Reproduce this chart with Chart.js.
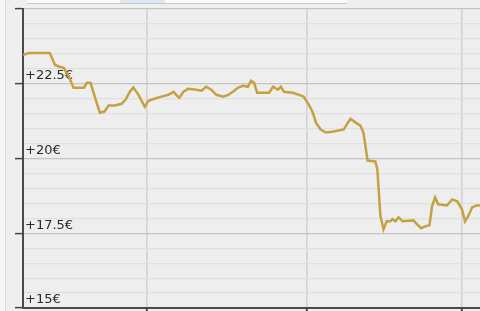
<!DOCTYPE html>
<html>
<head>
<meta charset="utf-8">
<script src="https://cdn.jsdelivr.net/npm/chart.js@4/dist/chart.umd.min.js"></script>
<style>
  html, body { margin: 0; padding: 0; background: #eeeeee; }
  #wrap { width: 480px; height: 311px; position: relative; }
</style>
</head>
<body>
<div id="wrap"><canvas id="c" width="480" height="311"></canvas></div>
<script>
// Day offsets from the start of the window
const days = [0, 1.2, 5.2, 6.2, 7.1, 7.9, 8.9, 9.8, 11.8, 12.4, 13.1, 13.9, 14.9, 15.8, 16.6, 17.8, 19.1, 19.9, 20.7, 21.4,
  22.4, 23.6, 24.3, 25.5, 26.8, 28.2, 29.2, 29.7, 30.3, 31.1, 32.0, 33.6, 34.6, 35.5, 36.5, 37.5, 38.8, 39.8, 40.7, 41.7,
  42.7, 43.6, 44.2, 44.8, 45.4, 47.7, 48.5, 49.4, 50.0, 50.6, 52.3, 53.5, 54.4, 55.4, 56.2, 56.8, 57.7, 58.7, 60.2, 62.2,
  63.1, 63.5, 64.5, 65.4, 66.0, 66.4, 66.8, 68.3, 68.7, 69.3, 69.9, 70.5, 71.2, 71.6, 72.2, 72.8, 73.6, 75.7, 76.4, 77.2,
  78.0, 78.8, 79.3, 79.9, 80.5, 82.2, 83.2, 84.2, 85.1, 85.7, 86.3, 87.1, 88.0, 88.6];
// Share price in euros
const prices = [23.47, 23.53, 23.53, 23.13, 23.07, 23.03, 22.73, 22.37, 22.37, 22.53, 22.53, 22.07, 21.53, 21.57, 21.77, 21.77, 21.83, 21.97, 22.23, 22.37,
  22.13, 21.73, 21.93, 22.00, 22.07, 22.13, 22.23, 22.13, 22.03, 22.23, 22.33, 22.30, 22.27, 22.40, 22.30, 22.13, 22.07, 22.13, 22.23, 22.37,
  22.43, 22.40, 22.60, 22.53, 22.20, 22.20, 22.40, 22.30, 22.40, 22.23, 22.20, 22.13, 22.07, 21.80, 21.53, 21.20, 20.97, 20.87, 20.90, 20.97,
  21.23, 21.33, 21.20, 21.10, 20.87, 20.40, 19.93, 19.90, 19.63, 18.07, 17.63, 17.90, 17.90, 17.97, 17.90, 18.03, 17.90, 17.93, 17.80, 17.67,
  17.73, 17.77, 18.40, 18.70, 18.47, 18.43, 18.63, 18.57, 18.30, 17.90, 18.07, 18.37, 18.43, 18.43];
// Month boundaries (vertical gridlines)
const monthTicks = [24, 55, 85];
// Labelled price levels every 2.5 €, minor lines every 0.5 €
const majorStep = 2.5;
const minorStep = 0.5;
const yMin = 15, yMax = 25, xMax = 88.6;

const points = days.map((d, i) => ({ x: d, y: prices[i] }));
const isMajor = v => Math.abs(v / majorStep - Math.round(v / majorStep)) < 1e-6;

const frame = {
  id: 'frame',
  beforeDraw(chart) {
    const { ctx, chartArea: a } = chart;
    ctx.save();
    ctx.fillStyle = '#efefef';
    ctx.fillRect(0, 0, chart.width, chart.height);
    ctx.fillStyle = '#f7f7f7';
    ctx.fillRect(0, 0, 5, chart.height);
    ctx.fillStyle = '#d9d9d9';
    ctx.fillRect(5, 0, 1, chart.height);
    ctx.fillStyle = '#fafafa';
    ctx.fillRect(27, 0, 320, 3);
    ctx.fillStyle = '#dde8f3';
    ctx.fillRect(120, 0, 45, 3);
    ctx.fillStyle = '#c8c8c8';
    ctx.fillRect(27, 3, 320, 1);
    ctx.fillStyle = '#eeeeee';
    ctx.fillRect(a.left, a.top, a.right - a.left, a.bottom - a.top);
    ctx.restore();
  }
};

new Chart(document.getElementById('c'), {
  type: 'line',
  data: {
    datasets: [{
      data: points,
      borderColor: 'rgb(196,162,66)',
      borderWidth: 2.5,
      pointRadius: 0,
      tension: 0,
      fill: false
    }]
  },
  options: {
    responsive: false,
    animation: false,
    layout: { padding: { left: 11, top: 9, right: 0, bottom: 0 } },
    plugins: { legend: { display: false }, tooltip: { enabled: false } },
    scales: {
      x: {
        type: 'linear',
        min: 0,
        max: xMax,
        afterBuildTicks: s => { s.ticks = monthTicks.map(v => ({ value: v })); },
        ticks: { display: false },
        grid: {
          color: '#d2d2d2',
          lineWidth: 1.6,
          drawTicks: true,
          tickLength: 3,
          tickColor: '#444',
          tickWidth: 2
        },
        border: { display: true, color: '#4a4a4a', width: 2 }
      },
      y: {
        min: yMin,
        max: yMax,
        afterBuildTicks: s => {
          const t = [];
          for (let v = yMin; v <= yMax + 1e-9; v += minorStep) t.push({ value: Math.round(v * 10) / 10 });
          s.ticks = t;
        },
        ticks: {
          autoSkip: false,
          mirror: true,
          padding: 2,
          labelOffset: -8,
          color: '#2a2a2a',
          font: { family: 'DejaVu Sans', size: 13, lineHeight: 0.1 },
          callback: v => (isMajor(v) && v < yMax) ? '+' + v + '€' : ''
        },
        grid: {
          color: ctx => isMajor(ctx.tick.value) ? '#c4c4c4' : '#e0e0e0',
          lineWidth: 1.2,
          drawTicks: true,
          tickLength: 8,
          tickColor: ctx => isMajor(ctx.tick.value) ? '#444' : 'rgba(0,0,0,0)',
          tickWidth: 1.5
        },
        border: { display: true, color: '#4a4a4a', width: 2 }
      }
    }
  },
  plugins: [frame]
});
</script>
</body>
</html>
